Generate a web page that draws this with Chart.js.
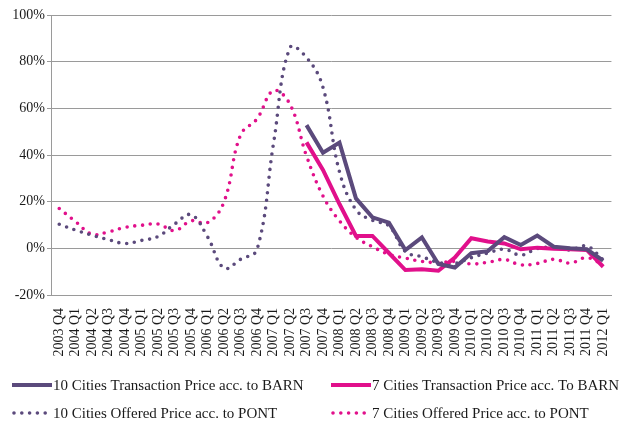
<!DOCTYPE html>
<html>
<head>
<meta charset="utf-8">
<script src="https://cdn.jsdelivr.net/npm/chart.js@4.4.1/dist/chart.umd.min.js"></script>
<style>
	html, body { margin: 0; padding: 0; background: #fff; }
	#wrap { width: 625px; height: 423px; position: relative; }
</style>
</head>
<body>
<div id="wrap"><canvas id="priceChart"></canvas></div>
<script>
var quarters = [ "2003 Q4", "2004 Q1", "2004 Q2", "2004 Q3", "2004 Q4", "2005 Q1",
		"2005 Q2", "2005 Q3", "2005 Q4", "2006 Q1", "2006 Q2", "2006 Q3",
		"2006 Q4", "2007 Q1", "2007 Q2", "2007 Q3", "2007 Q4", "2008 Q1",
		"2008 Q2", "2008 Q3", "2008 Q4", "2009 Q1", "2009 Q2", "2009 Q3",
		"2009 Q4", "2010 Q1", "2010 Q2", "2010 Q3", "2010 Q4", "2011 Q1",
		"2011 Q2", "2011 Q3", "2011 Q4", "2012 Q1" ];

// transaction prices (BARN), start in 2007 Q3
var barn10 = [ null, null, null, null, null, null, null, null, null, null, null,
		null, null, null, null, 52.8, 41, 45.3, 21.4, 13.3, 11, -0.7, 4.7, -6.7,
		-8.2, -2.1, -1.2, 4.8, 1.4, 5.5, 0.7, 0, -0.4, -5.3 ];
var barn7 = [ null, null, null, null, null, null, null, null, null, null, null,
		null, null, null, null, 45.4, 33.6, 19, 5.3, 5.3, -2, -9.3, -9, -9.6, -4,
		4.3, 2.9, 2.1, -0.4, 0.3, -0.2, -0.4, -0.7, -7.9 ];

// offered prices (PONT)
var pont10 = [ 10.3, 7.8, 5.6, 3.7, 2.1, 3.4, 5.1, 10.4, 14.4, 4.9, -8.5, -4.7,
		-0.5, 45, 86, 81.8, 69, 32.8, 16.5, 12, 9.6, -1.4, -3.6, -6, -6.5, -4, -2,
		-0.4, -2.9, -0.1, 0.4, -0.7, 1, -5 ];
var pont7 = [ 17.1, 11.4, 6.0, 7.1, 9.0, 9.9, 10.4, 7.6, 11.8, 11.0, 20, 48.6,
		55.5, 67.6, 61.7, 39.6, 22.4, 11.8, 4.7, 0.7, -2.6, -4.2, -5.6, -6.1, -5.6,
		-6.7, -6, -4.8, -7.1, -6.5, -4.7, -6.3, -4, -7.1 ];

var seriesNames = [ "10 Cities Transaction Price acc. to BARN",
		"7 Cities Transaction Price acc. To BARN",
		"10 Cities Offered Price acc. to PONT",
		"7 Cities Offered Price acc. to PONT" ];
var yTicks = [ -20, 0, 20, 40, 60, 80, 100 ];

var purple = "#5b4a7c";
var magenta = "#e1108b";
var serif = "'Liberation Serif', 'Times New Roman', serif";

function solid(label, data, color) {
	return {
		label : label,
		data : data,
		borderColor : color,
		backgroundColor : color,
		borderWidth : 4,
		pointRadius : 0,
		tension : 0,
		fill : false
	};
}

function dotted(label, data, color) {
	return {
		label : label,
		data : data,
		borderColor : color,
		backgroundColor : color,
		borderWidth : 3.6,
		borderDash : [ 0, 7.8 ],
		borderCapStyle : "round",
		pointRadius : 0,
		tension : 0.4,
		fill : false
	};
}

// two-column legend under the axis labels
var legendPlugin = {
	id : "gridLegend",
	afterDraw : function(chart) {
		var ctx = chart.ctx;
		var cols = [ 12, 331 ];
		var rows = [ 385, 413 ];
		chart.data.datasets.forEach(function(ds, i) {
			var x = cols[i % 2];
			var y = rows[Math.floor(i / 2)];
			ctx.save();
			ctx.strokeStyle = ds.borderColor;
			ctx.lineWidth = ds.borderWidth;
			ctx.lineCap = ds.borderCapStyle || "butt";
			ctx.setLineDash(ds.borderDash || []);
			ctx.beginPath();
			if (ds.borderDash) {
				ctx.moveTo(x + 2, y);
				ctx.lineTo(x + 38, y);
			} else {
				ctx.moveTo(x, y);
				ctx.lineTo(x + 40, y);
			}
			ctx.stroke();
			ctx.setLineDash([]);
			ctx.fillStyle = "#1a1a1a";
			ctx.font = "15px " + serif;
			ctx.textBaseline = "middle";
			ctx.fillText(ds.label, x + 41, y + 1);
			ctx.restore();
		});
	}
};

var chart = new Chart(document.getElementById("priceChart"), {
	type : "line",
	data : {
		labels : quarters,
		datasets : [ solid(seriesNames[0], barn10, purple),
				solid(seriesNames[1], barn7, magenta),
				dotted(seriesNames[2], pont10, purple),
				dotted(seriesNames[3], pont7, magenta) ]
	},
	options : {
		responsive : true,
		maintainAspectRatio : false,
		animation : false,
		layout : {
			padding : { top : 15, right : 0, bottom : 0, left : 0 }
		},
		plugins : {
			legend : { display : false },
			tooltip : { enabled : false }
		},
		scales : {
			x : {
				offset : true,
				grid : { display : false },
				border : { color : "#9a9a9a", width : 1 },
				ticks : {
					autoSkip : false,
					maxRotation : 90,
					minRotation : 90,
					padding : 5,
					color : "#1a1a1a",
					font : { family : serif, size : 14 }
				},
				afterFit : function(scale) {
					scale.height = 128;
				}
			},
			y : {
				min : yTicks[0],
				max : yTicks[yTicks.length - 1],
				afterBuildTicks : function(scale) {
					scale.ticks = yTicks.map(function(v) {
						return { value : v };
					});
				},
				grid : { color : "#9a9a9a", lineWidth : 1, tickLength : 4 },
				border : { color : "#9a9a9a", width : 1 },
				ticks : {
					padding : 2,
					color : "#1a1a1a",
					font : { family : serif, size : 14 },
					callback : function(v) {
						return v + "%";
					}
				},
				afterFit : function(scale) {
					scale.width = 51;
				}
			}
		}
	},
	plugins : [ legendPlugin ]
});
</script>
</body>
</html>
